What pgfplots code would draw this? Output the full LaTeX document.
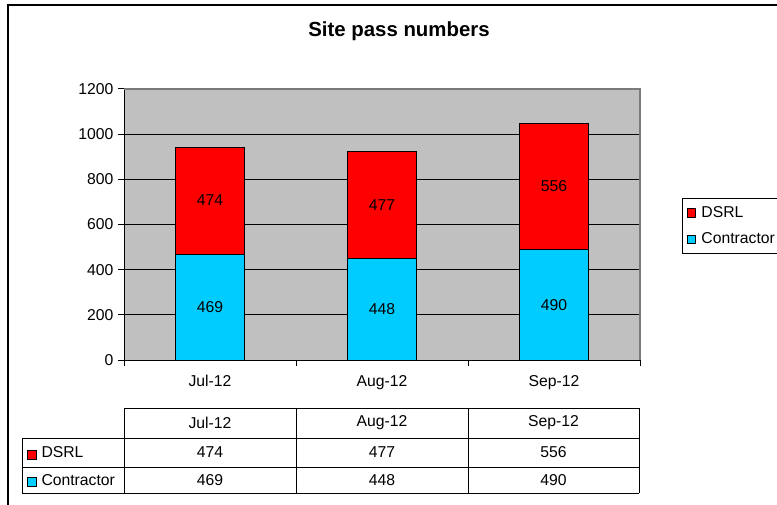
\documentclass[border=0pt]{standalone}
\usepackage{pgfplots}
\pgfplotsset{compat=1.18}
\usepackage{fontspec}
\setmainfont{Liberation Sans}
\definecolor{dsrl}{HTML}{FF0000}
\definecolor{contr}{HTML}{00CCFF}
\definecolor{plotbg}{HTML}{C0C0C0}
\definecolor{bordergray}{HTML}{7A7A7A}
\newcommand\lbl{\fontsize{11.8}{14}\selectfont}
\begin{document}
\begin{tikzpicture}
\begin{scope}[x=0.75pt,y=-0.75pt]
\draw[line width=1pt] (8,510) -- (8,5) -- (790,5);
\node[font=\fontsize{15.3}{18}\selectfont\bfseries] at (399,31) {Site pass numbers};
\end{scope}
\begin{axis}[
  at={(93pt,-270pt)}, anchor=south west,
  width=387pt, height=203.25pt, scale only axis,
  ybar stacked, bar width=51.75pt,
  xmin=-0.5, xmax=2.5, ymin=0, ymax=1200,
  xtick={0,1,2}, xticklabels={Jul-12,Aug-12,Sep-12},
  minor xtick={-0.5,0.5,1.5,2.5},
  major x tick style={draw=none},
  minor tick length=4.5pt, major tick length=4.5pt,
  tick align=outside,
  ytick={0,200,...,1200},
  ymajorgrids, major grid style={black, line width=0.75pt},
  axis x line*=bottom, axis y line*=left,
  axis line style={black, line width=0.75pt},
  tick style={black, line width=0.75pt},
  axis background/.style={fill=plotbg},
  ticklabel style={font=\lbl},
  xticklabel style={yshift=-3.5pt},
  /pgf/number format/assume math mode=true,
  /pgf/number format/1000 sep={},
  clip=false,
  legend style={at={(1.0814,0.5978)}, anchor=north west, draw=black, line width=0.75pt, font=\lbl, inner xsep=3pt, inner ysep=4pt, row sep=6pt},
  legend cell align=left,
  reverse legend,
  after end axis/.code={\draw[bordergray, line width=1.2pt] (rel axis cs:0,1) -- (rel axis cs:1,1) -- (rel axis cs:1,0);},
]
\addplot[fill=contr, draw=black, line width=0.75pt,
  legend image code/.code={\draw[fill=contr, draw=black, line width=0.5pt] (2.2pt,-3.2pt) rectangle (8.6pt,3.2pt); \path (10.8pt,0pt);}]
  coordinates {(0,469) (1,448) (2,490)};
\addplot[fill=dsrl, draw=black, line width=0.75pt,
  legend image code/.code={\draw[fill=dsrl, draw=black, line width=0.5pt] (2.2pt,-3.2pt) rectangle (8.6pt,3.2pt); \path (10.8pt,0pt);}]
  coordinates {(0,474) (1,477) (2,556)};
\legend{Contractor, DSRL}
\end{axis}
\begin{axis}[
  at={(93pt,-270pt)}, anchor=south west,
  width=387pt, height=203.25pt, scale only axis,
  xmin=-0.5, xmax=2.5, ymin=0, ymax=1200, hide axis, clip=false]
\addplot[draw=none, nodes near coords, point meta=explicit symbolic,
  nodes near coords align=center,
  every node near coord/.append style={font=\lbl, text=black}]
  coordinates {(0,234.5)[469] (1,224)[448] (2,245)[490] (0,706)[474] (1,686.5)[477] (2,768)[556]};
\end{axis}
\begin{scope}[x=0.75pt,y=-0.75pt, line width=0.75pt]
\draw (124,408) -- (639,408);
\draw (22,438) -- (639,438);
\draw (22,467) -- (639,467);
\draw (22,493) -- (639,493);
\draw (22,438) -- (22,493);
\foreach \xx in {124,296,468,639} {\draw (\xx,408) -- (\xx,493);}
\node[font=\lbl] at (210,423) {Jul-12};
\node[font=\lbl] at (382,423) {Aug-12};
\node[font=\lbl] at (553.5,423) {Sep-12};
\node[font=\lbl] at (210,452.5) {474};
\node[font=\lbl] at (382,452.5) {477};
\node[font=\lbl] at (553.5,452.5) {556};
\node[font=\lbl] at (210,480) {469};
\node[font=\lbl] at (382,480) {448};
\node[font=\lbl] at (553.5,480) {490};
\draw[fill=dsrl, line width=0.5pt] (27,450) rectangle (36,459);
\draw[fill=contr, line width=0.5pt] (27,477) rectangle (36,486);
\node[font=\lbl, anchor=west, inner sep=0pt] at (41,452.5) {DSRL};
\node[font=\lbl, anchor=west, inner sep=0pt] at (41,480) {Contractor};
\pgfresetboundingbox
\path[use as bounding box] (0,0) rectangle (777,505);
\end{scope}
\end{tikzpicture}
\end{document}
